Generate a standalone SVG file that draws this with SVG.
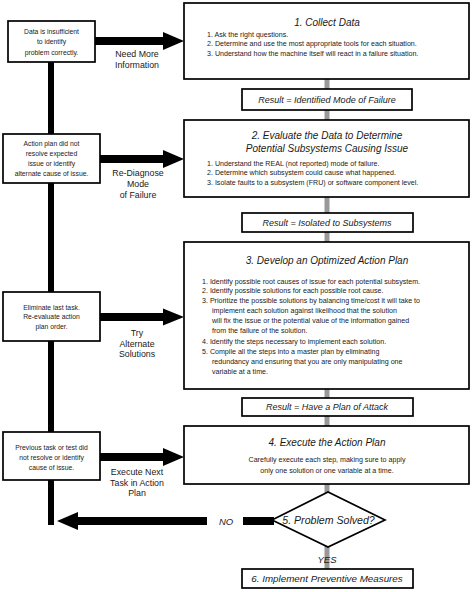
<svg xmlns="http://www.w3.org/2000/svg" width="474" height="592" viewBox="0 0 474 592">
<style>
text{font-family:"Liberation Sans",Arial,sans-serif;fill:#1a1a1a}
.box{fill:#fff;stroke:#000;stroke-width:1.7}
.title{font-size:10px;font-style:italic;text-anchor:middle}
.res{font-size:9px;font-style:italic;text-anchor:middle}
.item{font-size:7.1px}
.ctr{font-size:7.1px;text-anchor:middle}
.lbox{font-size:6.8px;text-anchor:middle}
.lab{font-size:8.8px;text-anchor:middle}
.shaft{stroke:#000;stroke-width:8;fill:none}
.head{fill:#000}
</style>
<rect width="474" height="592" fill="#fff"/>
<g id="connectors">
<line x1="327" y1="79" x2="327" y2="569" stroke="#999" stroke-width="5"/>
<line x1="51" y1="62" x2="51" y2="525" stroke="#000" stroke-width="6"/>
<line class="shaft" x1="95" y1="41" x2="165" y2="41"/>
<polygon class="head" points="163,32 184,41 163,50"/>
<line class="shaft" x1="100" y1="159" x2="165" y2="159"/>
<polygon class="head" points="163,150 184,159 163,168"/>
<line class="shaft" x1="100" y1="317" x2="165" y2="317"/>
<polygon class="head" points="163,308.5 184,317 163,325.5"/>
<line class="shaft" x1="100" y1="457" x2="165" y2="457"/>
<polygon class="head" points="163,448 184,457 163,466"/>
<line class="shaft" x1="243" y1="521" x2="274" y2="521"/>
<line class="shaft" x1="76" y1="521" x2="207" y2="521"/>
<polygon class="head" points="57,521 78,512 78,530"/>
<text class="lab" x="137" y="57">Need More</text>
<text class="lab" x="137" y="68">Information</text>
<text class="lab" x="138" y="176">Re-Diagnose</text>
<text class="lab" x="138" y="187">Mode</text>
<text class="lab" x="138" y="197.5">of Failure</text>
<text class="lab" x="137" y="336">Try</text>
<text class="lab" x="137" y="346.5">Alternate</text>
<text class="lab" x="137" y="357">Solutions</text>
<text class="lab" x="137" y="475">Execute Next</text>
<text class="lab" x="137" y="485.5">Task in Action</text>
<text class="lab" x="137" y="496">Plan</text>
<text class="res" x="226" y="524.5" style="font-size:9.5px">NO</text>
<text class="res" x="327" y="563" style="font-size:9.5px">YES</text>
</g>
<g id="left1">
<rect class="box" x="8" y="21" width="87" height="41"/>
<text class="lbox" x="51.5" y="33.5">Data is insufficient</text>
<text class="lbox" x="51.5" y="44">to identify</text>
<text class="lbox" x="51.5" y="54.5">problem correctly.</text>
</g>
<g id="left2">
<rect class="box" x="3" y="134" width="97" height="49"/>
<text class="lbox" x="51.5" y="145.8">Action plan did not</text>
<text class="lbox" x="51.5" y="155.7">resolve expected</text>
<text class="lbox" x="51.5" y="165.6">issue or identify</text>
<text class="lbox" x="51.5" y="175.5">alternate cause of issue.</text>
</g>
<g id="left3">
<rect class="box" x="3" y="292" width="97" height="49"/>
<text class="lbox" x="51.5" y="309.5">Eliminate last task.</text>
<text class="lbox" x="51.5" y="319">Re-evaluate action</text>
<text class="lbox" x="51.5" y="328.5">plan order.</text>
</g>
<g id="left4">
<rect class="box" x="3" y="432" width="97" height="48"/>
<text class="lbox" x="51.5" y="449.5">Previous task or test did</text>
<text class="lbox" x="51.5" y="459.5">not resolve or identify</text>
<text class="lbox" x="51.5" y="469.5">cause of issue.</text>
</g>
<g id="step1">
<rect class="box" x="184" y="3" width="285" height="76"/>
<text class="title" x="327" y="25.5">1. Collect Data</text>
<text class="item" x="207" y="36.5">1. Ask the right questions.</text>
<text class="item" x="207" y="46">2. Determine and use the most appropriate tools for each situation.</text>
<text class="item" x="207" y="55.5">3. Understand how the machine itself will react in a failure situation.</text>
</g>
<g id="result1">
<rect class="box" x="242" y="89" width="170" height="21"/>
<text class="res" x="327" y="103">Result = Identified Mode of Failure</text>
</g>
<g id="step2">
<rect class="box" x="184" y="120" width="285" height="77"/>
<text class="title" x="327" y="138.5">2. Evaluate the Data to Determine</text>
<text class="title" x="327" y="151.5">Potential Subsystems Causing Issue</text>
<text class="item" x="207" y="165.5">1. Understand the REAL (not reported) mode of failure.</text>
<text class="item" x="207" y="175">2. Determine which subsystem could cause what happened.</text>
<text class="item" x="207" y="184.5">3. Isolate faults to a subsystem (FRU) or software component level.</text>
</g>
<g id="result2">
<rect class="box" x="242" y="213" width="171" height="19"/>
<text class="res" x="327" y="226">Result = Isolated to Subsystems</text>
</g>
<g id="step3">
<rect class="box" x="184" y="242" width="285" height="147"/>
<text class="title" x="327" y="263.5">3. Develop an Optimized Action Plan</text>
<text class="item" x="202" y="283.5">1. Identify possible root causes of issue for each potential subsystem.</text>
<text class="item" x="202" y="293.3">2. Identify possible solutions for each possible root cause.</text>
<text class="item" x="202" y="303.2">3. Prioritize the possible solutions by balancing time/cost it will take to</text>
<text class="item" x="212" y="313.3">implement each solution against likelihood that the solution</text>
<text class="item" x="212" y="323.3">will fix the issue or the potential value of the information gained</text>
<text class="item" x="212" y="333.3">from the failure of the solution.</text>
<text class="item" x="202" y="344.2">4. Identify the steps necessary to implement each solution.</text>
<text class="item" x="202" y="354.2">5. Compile all the steps into a master plan by eliminating</text>
<text class="item" x="212" y="364.2">redundancy and ensuring that you are only manipulating one</text>
<text class="item" x="212" y="374.2">variable at a time.</text>
</g>
<g id="result3">
<rect class="box" x="242" y="398" width="171" height="18"/>
<text class="res" x="327" y="410.2">Result = Have a Plan of Attack</text>
</g>
<g id="step4">
<rect class="box" x="184" y="426" width="285" height="58"/>
<text class="title" x="327" y="445.5">4. Execute the Action Plan</text>
<text class="ctr" x="327" y="461.5">Carefully execute each step, making sure to apply</text>
<text class="ctr" x="327" y="472.5">only one solution or one variable at a time.</text>
</g>
<g id="decision">
<polygon points="272,520 328,492 385,520 328,547" fill="#fff" stroke="#000" stroke-width="1.7"/>
<text class="title" x="328.5" y="523.8" style="font-size:10.6px">5. Problem Solved?</text>
</g>
<g id="step6">
<rect class="box" x="242" y="569" width="171" height="19"/>
<text class="title" x="327" y="582" style="font-size:9.8px">6. Implement Preventive Measures</text>
</g>
</svg>
